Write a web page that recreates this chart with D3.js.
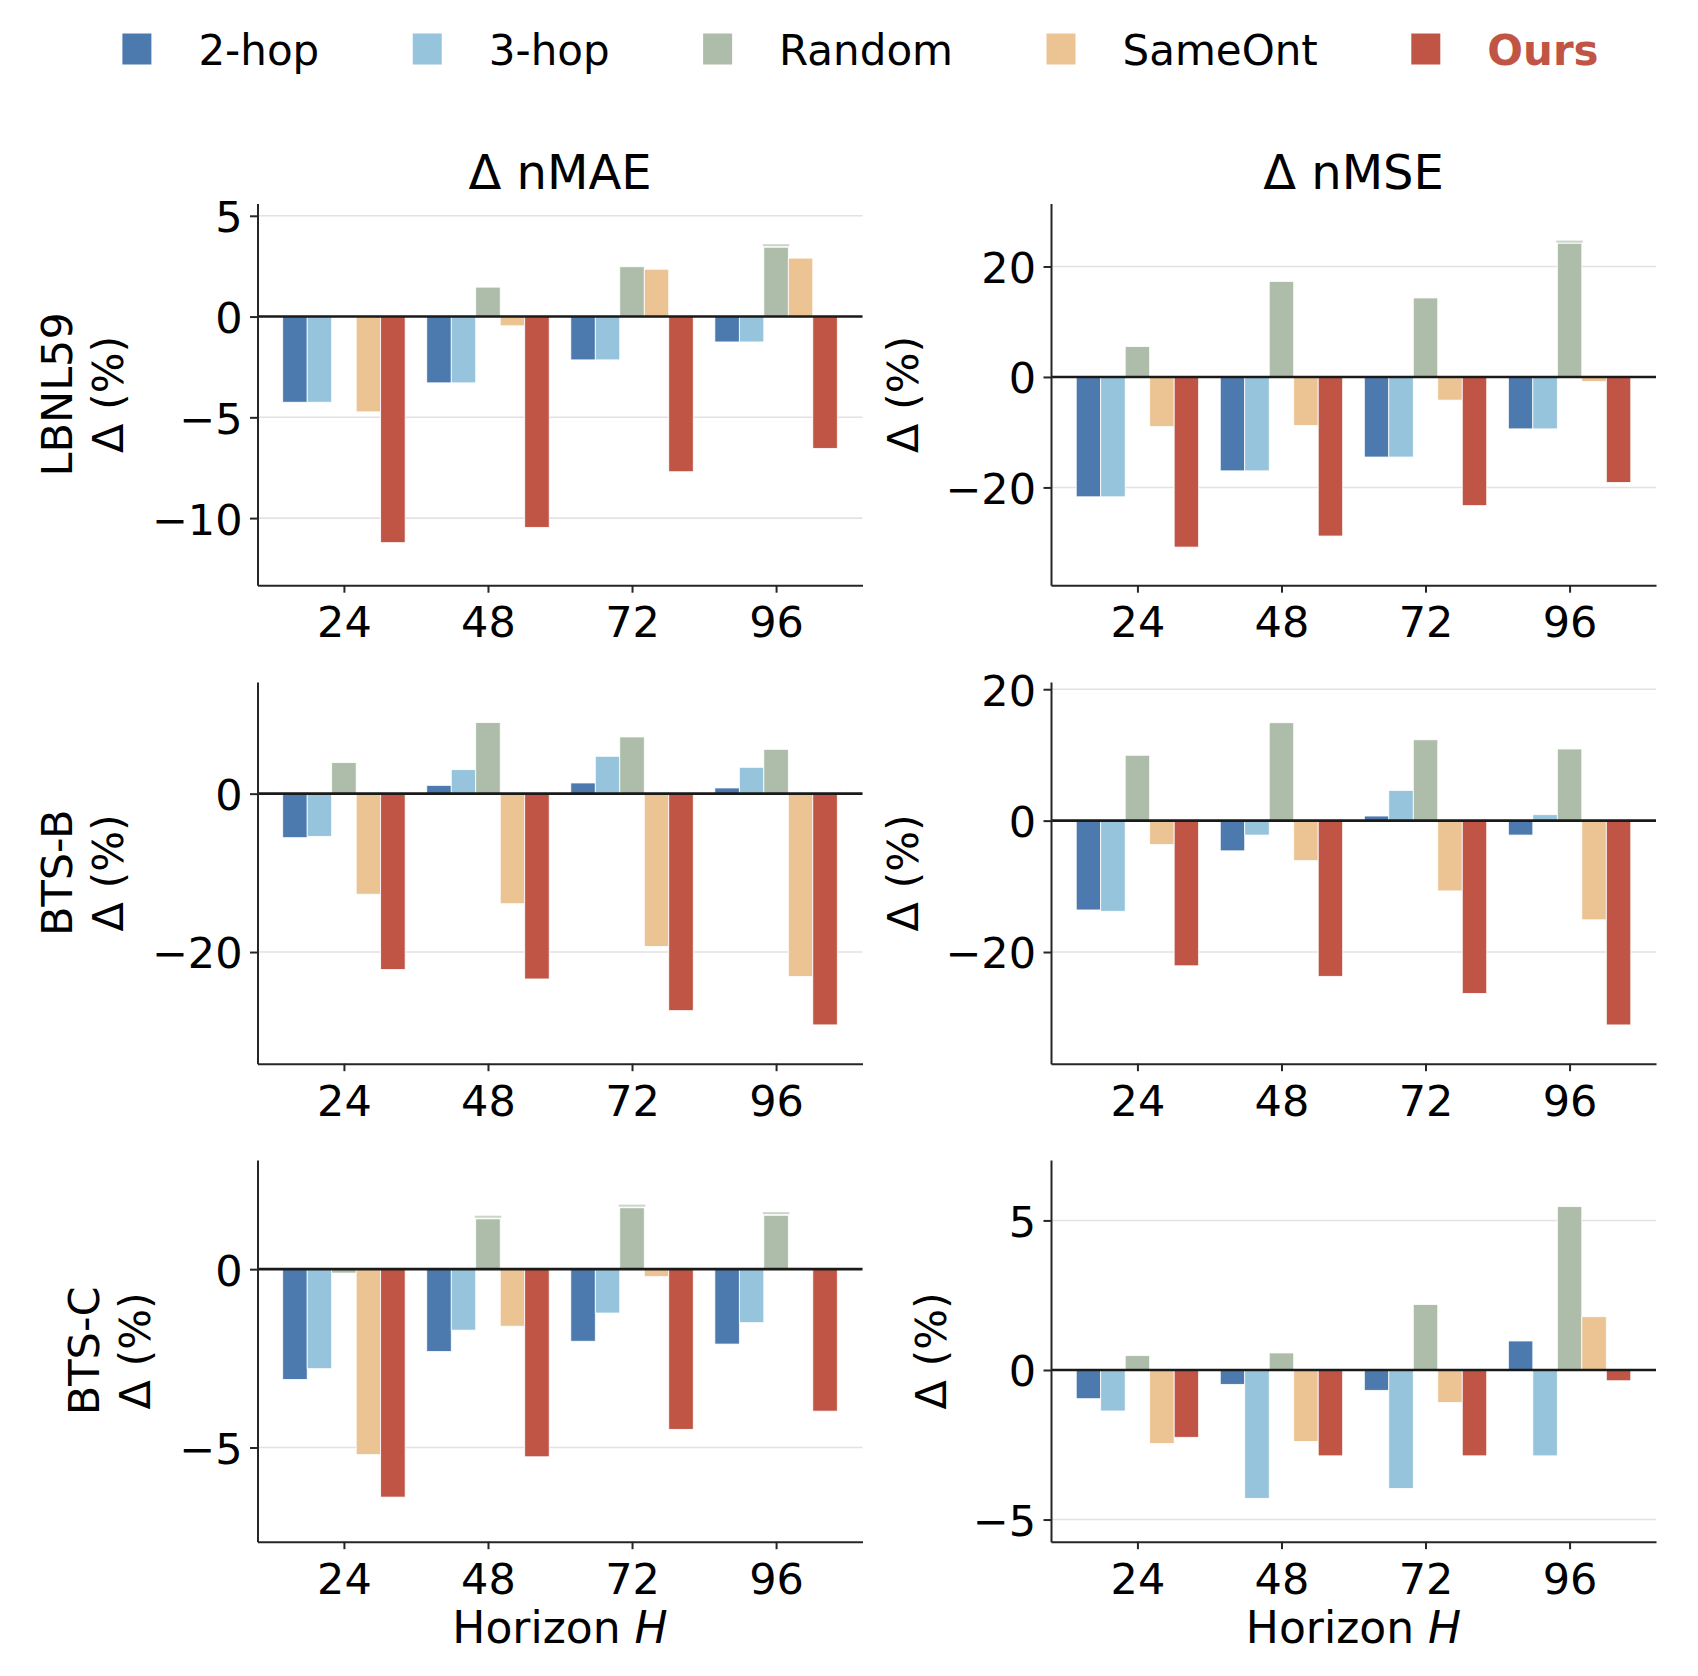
<!DOCTYPE html>
<html>
<head>
<meta charset="utf-8">
<script src="https://cdn.jsdelivr.net/npm/d3@7"></script>
<style>
  body { margin: 0; background: #fff; }
  svg text { font-family: "DejaVu Sans", sans-serif; }
</style>
</head>
<body>
<svg id="chart" width="1698" height="1676"></svg>
<script>
// --- data ---------------------------------------------------------------
const horizons = [24, 48, 72, 96];
const methods = ["2-hop", "3-hop", "Random", "SameOnt", "Ours"];
const methodColors = ["#4c7aae", "#96c4dc", "#adbdaa", "#ecc494", "#c05545"];
const datasets = ["LBNL59", "BTS-B", "BTS-C"];
const metrics = ["Δ nMAE", "Δ nMSE"];

// one row per method (same order as `methods`), one column per horizon
const lbnlMAE = [
  [-4.25, -3.29, -2.15, -1.26],
  [-4.25, -3.29, -2.15, -1.26],
  [0.0, 1.46, 2.47, 3.44],
  [-4.73, -0.46, 2.35, 2.90],
  [-11.22, -10.46, -7.70, -6.54]
];
const lbnlMSE = [
  [-21.7, -17.0, -14.5, -9.4],
  [-21.7, -17.0, -14.5, -9.4],
  [5.5, 17.3, 14.3, 24.2],
  [-9.0, -8.8, -4.2, -0.85],
  [-30.8, -28.8, -23.3, -19.1]
];
const btsbMAE = [
  [-5.56, 1.05, 1.35, 0.72],
  [-5.39, 3.03, 4.72, 3.33],
  [3.92, 8.97, 7.16, 5.6],
  [-12.7, -13.9, -19.3, -23.1],
  [-22.2, -23.4, -27.4, -29.2]
];
const btsbMSE = [
  [-13.6, -4.6, 0.7, -2.2],
  [-13.8, -2.2, 4.6, 0.9],
  [9.95, 14.9, 12.3, 10.9],
  [-3.65, -6.1, -10.7, -15.1],
  [-22.1, -23.7, -26.3, -31.1]
];
const btscMAE = [
  [-3.09, -2.31, -2.02, -2.10],
  [-2.79, -1.71, -1.23, -1.50],
  [-0.11, 1.41, 1.72, 1.51],
  [-5.2, -1.6, -0.21, 0.05],
  [-6.39, -5.26, -4.49, -3.98]
];
const btscMSE = [
  [-0.96, -0.48, -0.68, 0.97],
  [-1.37, -4.29, -3.96, -2.87],
  [0.48, 0.57, 2.19, 5.46],
  [-2.46, -2.39, -1.09, 1.78],
  [-2.25, -2.87, -2.87, -0.36]
];

// faint upper mark visible on some Random bars
const lbnlMAERandomTop = [null, null, null, 3.54];
const lbnlMSERandomTop = [null, null, null, 24.5];
const btscMAERandomTop = [null, 1.47, 1.78, 1.57];

// y limits and ticks of each panel
const lbnlMAEDomain = [-13.33, 5.61], lbnlMAETicks = [-10, -5, 0, 5];
const lbnlMSEDomain = [-37.7, 31.4],  lbnlMSETicks = [-20, 0, 20];
const btsbMAEDomain = [-34.1, 14.1],  btsbMAETicks = [-20, 0];
const btsbMSEDomain = [-37.0, 21.1],  btsbMSETicks = [-20, 0, 20];
const btscMAEDomain = [-7.64, 3.06],  btscMAETicks = [-5, 0];
const btscMSEDomain = [-5.74, 7.02],  btscMSETicks = [-5, 0, 5];

const panels = [
  {values: lbnlMAE, domain: lbnlMAEDomain, ticks: lbnlMAETicks, top: lbnlMAERandomTop},
  {values: lbnlMSE, domain: lbnlMSEDomain, ticks: lbnlMSETicks, top: lbnlMSERandomTop},
  {values: btsbMAE, domain: btsbMAEDomain, ticks: btsbMAETicks, top: null},
  {values: btsbMSE, domain: btsbMSEDomain, ticks: btsbMSETicks, top: null},
  {values: btscMAE, domain: btscMAEDomain, ticks: btscMAETicks, top: btscMAERandomTop},
  {values: btscMSE, domain: btscMSEDomain, ticks: btscMSETicks, top: null}
];

// --- layout ---------------------------------------------------------------
const svg = d3.select("#chart");
const colX = [257.5, 1051], rowY = [203.5, 682, 1160];
const pw = 605, ph = 381.7;
const barW = 0.17;
const axisColor = "#262626";
const fontTick = 43;

panels.forEach((p, k) => {
  const r = Math.floor(k / 2), c = k % 2;
  const g = svg.append("g").attr("transform", `translate(${colX[c]},${rowY[r]})`);

  const x = d3.scaleLinear().domain([-0.6, 3.6]).range([0, pw]);
  const y = d3.scaleLinear().domain(p.domain).range([ph, 0]);

  // grid
  g.append("g").selectAll("line").data(p.ticks).join("line")
    .attr("x1", 0).attr("x2", pw)
    .attr("y1", d => y(d)).attr("y2", d => y(d))
    .attr("stroke", "#e2e2e2").attr("stroke-width", 1.6);

  // bars
  methods.forEach((m, j) => {
    g.append("g").selectAll("rect").data(p.values[j]).join("rect")
      .attr("x", (d, i) => x(i + (j - 2) * barW - barW / 2))
      .attr("width", x(barW) - x(0))
      .attr("y", d => y(Math.max(0, d)))
      .attr("height", d => Math.abs(y(d) - y(0)))
      .attr("fill", methodColors[j])
      .attr("stroke", "#fff").attr("stroke-width", 0.8);
  });

  if (p.top) {
    const tops = p.top.map((v, i) => ({v, i})).filter(d => d.v !== null);
    g.append("g").selectAll("rect").data(tops).join("rect")
      .attr("x", d => x(d.i - barW / 2) - 1)
      .attr("width", x(barW) - x(0) + 2)
      .attr("y", d => y(d.v) - 1)
      .attr("height", 2)
      .attr("fill", "#cad5c8");
  }

  // zero line
  g.append("line")
    .attr("x1", 0).attr("x2", pw)
    .attr("y1", y(0)).attr("y2", y(0))
    .attr("stroke", "#1a1a1a").attr("stroke-width", 2.6);

  // axes
  const yAx = g.append("g")
    .call(d3.axisLeft(y).tickValues(p.ticks).tickSize(7.5).tickSizeOuter(0)
      .tickPadding(7.5).tickFormat(d3.format("d")));
  const xAx = g.append("g").attr("transform", `translate(0,${ph})`)
    .call(d3.axisBottom(x).tickValues([0, 1, 2, 3]).tickSize(7.5).tickSizeOuter(0)
      .tickPadding(14).tickFormat(i => horizons[i]));
  [yAx, xAx].forEach(ax => {
    ax.attr("color", axisColor).attr("font-size", fontTick)
      .attr("font-family", "DejaVu Sans");
    ax.selectAll("path, line").attr("stroke-width", 2);
    ax.selectAll("text").attr("fill", "#000");
  });
  yAx.selectAll("text").attr("dy", "0.37em");

  // titles
  if (r === 0) {
    svg.append("text")
      .attr("x", colX[c] + pw / 2).attr("y", 188.7)
      .attr("text-anchor", "middle").attr("font-size", 48)
      .text(metrics[c]);
  }
  if (r === 2) {
    const t = svg.append("text")
      .attr("x", colX[c] + pw / 2).attr("y", 1643)
      .attr("text-anchor", "middle").attr("font-size", 44);
    t.append("tspan").text("Horizon ");
    t.append("tspan").attr("font-style", "italic").text("H");
  }

  // y labels placed left of the tick labels
  const left = colX[c] + yAx.node().getBBox().x;
  const cy = rowY[r] + ph / 2;
  const lab = (bx, txt) => svg.append("text")
    .attr("transform", `translate(${bx},${cy}) rotate(-90)`)
    .attr("text-anchor", "middle").attr("font-size", 43).text(txt);
  if (c === 0) {
    lab(left - 29, "Δ (%)");
    lab(left - 29 - 51, datasets[r]);
  } else {
    lab(left - 27, "Δ (%)");
  }
});

// --- legend ---------------------------------------------------------------
let lx = 122.4;
methods.forEach((m, j) => {
  svg.append("rect")
    .attr("x", lx).attr("y", 33.5).attr("width", 29).attr("height", 31)
    .attr("fill", methodColors[j]);
  const t = svg.append("text")
    .attr("x", lx + 76).attr("y", 64.5).attr("font-size", 42)
    .text(m);
  if (m === "Ours") t.attr("font-weight", "bold").attr("fill", methodColors[j]);
  lx += 76 + t.node().getComputedTextLength() + 93.5;
});
</script>
</body>
</html>
